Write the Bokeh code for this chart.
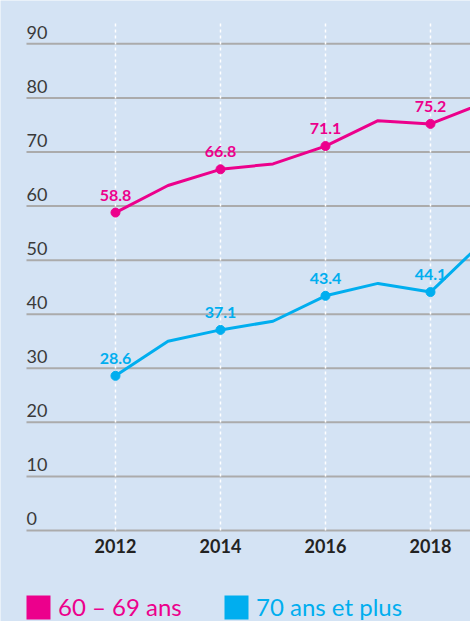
from bokeh.plotting import figure
from bokeh.models import ColumnDataSource, Range1d, Legend, LegendItem
from bokeh.core.properties import value
from bokeh.embed import file_html
from bokeh.resources import INLINE

# ---- data ----
years = [2012, 2013, 2014, 2015, 2016, 2017, 2018, 2019]
ages_60_69 = [58.8, 63.8, 66.8, 67.8, 71.1, 75.8, 75.2, 79.0]
ages_70_plus = [28.6, 35.0, 37.1, 38.7, 43.4, 45.7, 44.1, 53.4]
labeled_years = [2012, 2014, 2016, 2018]
y_ticks = [0, 10, 20, 30, 40, 50, 60, 70, 80, 90]
y_tick_labels = ["0", "10", "20", "30", "40", "50", "60", "70", "80", "90"]
x_ticks = [2012, 2014, 2016, 2018]
x_tick_labels = ["2012", "2014", "2016", "2018"]
series_names = ["60 – 69 ans", "70 ans et plus"]

PINK = "#EC008C"
BLUE = "#00AEEF"
BG = "#D4E3F4"
GRID = "#ABABAB"

# plotting area geometry (data units)
X_LEFT = 2010.305      # left end of the gridlines
X_MIN, X_MAX = 2009.81, 2018.762
Y_MIN, Y_MAX = -16.83, 98.02
Y_TOP_DASH = 93.95

p = figure(width=470, height=621, output_backend="svg", toolbar_location=None,
           x_range=Range1d(X_MIN, X_MAX), y_range=Range1d(Y_MIN, Y_MAX),
           min_border=0)
p.background_fill_color = BG
p.border_fill_color = BG
p.outline_line_color = None
p.xaxis.visible = False
p.yaxis.visible = False
p.grid.visible = False

# horizontal gridlines
p.segment(x0=[X_LEFT] * len(y_ticks), x1=[X_MAX] * len(y_ticks), y0=y_ticks, y1=y_ticks,
          line_color=GRID, line_width=2)
# vertical dashed lines
p.segment(x0=x_ticks, x1=x_ticks, y0=[y_ticks[0]] * len(x_ticks), y1=[Y_TOP_DASH] * len(x_ticks),
          line_color="white", line_width=1.5, line_dash="3 3")

# y tick labels above gridlines
p.text(x=[X_LEFT] * len(y_ticks), y=y_ticks, text=y_tick_labels, text_align="left",
       text_baseline="bottom", y_offset=-5, text_font=value("Lato"),
       text_font_size="18px", text_color="#3a3a3a")
# x tick labels
p.text(x=x_ticks, y=[y_ticks[0]] * len(x_ticks), text=x_tick_labels, text_align="center",
       text_baseline="top", y_offset=9, text_font=value("Lato"), text_font_style="bold",
       text_font_size="18px", text_color="#222222")

nan = float("nan")
legend_renderers = []
for vals, color in [(ages_60_69, PINK), (ages_70_plus, BLUE)]:
    src = ColumnDataSource(dict(x=years, y=vals))
    p.line(x="x", y="y", source=src, line_color=color, line_width=3)
    lx = [y for y in years if y in labeled_years]
    ly = [v for y, v in zip(years, vals) if y in labeled_years]
    lsrc = ColumnDataSource(dict(x=lx, y=ly, t=["%.1f" % v for v in ly]))
    p.scatter(x="x", y="y", source=lsrc, size=9, fill_color=color, line_color=color)
    p.text(x="x", y="y", text="t", source=lsrc, text_align="center", text_baseline="bottom",
           y_offset=-12, text_font=value("Lato"), text_font_style="bold",
           text_font_size="16px", text_color=color)
    r = p.quad(left=[nan], right=[nan], top=[nan], bottom=[nan], fill_color=color,
               line_color=None)
    legend_renderers.append(r)

for name, r, color, loc in [(series_names[0], legend_renderers[0], PINK, (23, -4)),
                            (series_names[1], legend_renderers[1], BLUE, (221, -4))]:
    lg = Legend(items=[LegendItem(label=name, renderers=[r])], location=loc,
                glyph_width=30, glyph_height=30, label_standoff=5, padding=0, margin=0,
                spacing=0, border_line_color=None, background_fill_alpha=0,
                label_text_font="Lato", label_text_font_size="24px",
                label_text_color=color, label_height=37)
    p.add_layout(lg, "center")

open("out.html", "w").write(file_html(p, INLINE))
